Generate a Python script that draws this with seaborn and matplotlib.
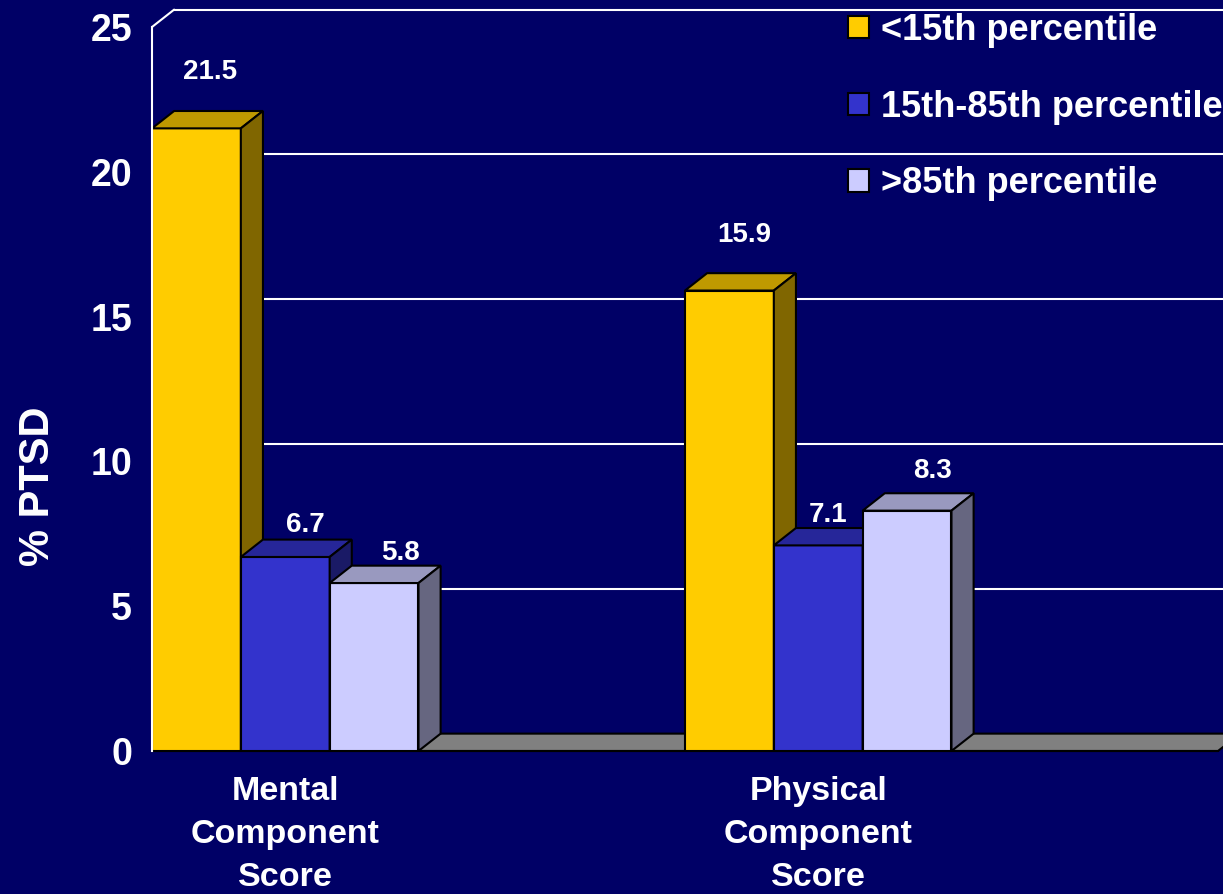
import numpy as np
import pandas as pd
import matplotlib
matplotlib.use("Agg")
import matplotlib.pyplot as plt
import seaborn as sns
from matplotlib.patches import Polygon, Patch
from matplotlib.colors import to_rgb

# ---------------- data ----------------
categories = ["Mental\nComponent\nScore", "Physical\nComponent\nScore"]
groups = ["<15th percentile", "15th-85th percentile", ">85th percentile"]
mental = [21.5, 6.7, 5.8]
physical = [15.9, 7.1, 8.3]
yticks = [0, 5, 10, 15, 20, 25]

# ---------------- style ----------------
BG = "#000066"
colors = ["#FFCC00", "#3333CC", "#CCCCFF"]
DEPTH_X = 0.083   # depth of the 3D effect in category units
DEPTH_Y = 0.60    # depth of the 3D effect in value units
# label nudges (pixels) so labels sit like the original
label_dx_px = [2.5, 9, 15, 3.5, -1, 14.5]
label_dy_px = [32, 8, 6, 31, 6, 15]

sns.set_style("white")
plt.rcParams["font.family"] = ["Liberation Sans", "DejaVu Sans"]
plt.rcParams["font.weight"] = "bold"

W, H = 1223, 894
fig = plt.figure(figsize=(W / 100, H / 100), dpi=100, facecolor=BG)
ax = fig.add_axes([152 / W, (H - 751) / H, 1066 / W, 724 / H])
ax.set_facecolor("none")

rows = []
for cat, vals in zip(categories, [mental, physical]):
    for g, v in zip(groups, vals):
        rows.append({"cat": cat, "group": g, "value": v})
df = pd.DataFrame(rows)
order = [categories[0], "gap1", categories[1], "gap2"]

sns.barplot(data=df, x="cat", y="value", hue="group", order=order,
            hue_order=groups, palette=colors, width=1.0, dodge=True,
            saturation=1, edgecolor="black", linewidth=1.5,
            errorbar=None, legend=False, ax=ax)

ax.set_xlim(-0.5, 3.5)
ax.set_ylim(0, 25)

# floor
floor = Polygon([(-0.5, 0), (3.5, 0), (3.5 + DEPTH_X, DEPTH_Y), (-0.5 + DEPTH_X, DEPTH_Y)],
                closed=True, facecolor="#808080", edgecolor="black", lw=1.5,
                clip_on=False, zorder=1.5)
ax.add_patch(floor)

# back-wall gridlines
for y in yticks[1:]:
    ax.plot([-0.5 + DEPTH_X, 3.5 + DEPTH_X], [y + DEPTH_Y, y + DEPTH_Y],
            color="white", lw=1.5, clip_on=False, zorder=1)
ax.plot([-0.5, -0.5 + DEPTH_X], [yticks[-1], yticks[-1] + DEPTH_Y],
        color="white", lw=1.5, clip_on=False, zorder=1)

# 3D bar faces
bars = sorted([p for p in ax.patches if p is not floor and p.get_height() > 0],
              key=lambda p: p.get_x())
values = mental + physical
px_to_pt = 72 / 100
for i, (b, val) in enumerate(zip(bars, values)):
    z = 3 + i * 0.1
    x0, w, h = b.get_x(), b.get_width(), b.get_height()
    fc = np.array(to_rgb(b.get_facecolor()))
    b.set_zorder(z)
    top = Polygon([(x0, h), (x0 + w, h), (x0 + w + DEPTH_X, h + DEPTH_Y), (x0 + DEPTH_X, h + DEPTH_Y)],
                  closed=True, facecolor=fc * 0.75, edgecolor="black", lw=1.5,
                  clip_on=False, zorder=z)
    side = Polygon([(x0 + w, 0), (x0 + w + DEPTH_X, DEPTH_Y), (x0 + w + DEPTH_X, h + DEPTH_Y), (x0 + w, h)],
                   closed=True, facecolor=fc * 0.5, edgecolor="black", lw=1.5,
                   clip_on=False, zorder=z)
    ax.add_patch(top)
    ax.add_patch(side)
    ax.annotate(f"{val}", xy=(x0 + w / 2 + DEPTH_X / 2, h + DEPTH_Y),
                xytext=(label_dx_px[i] * px_to_pt, label_dy_px[i] * px_to_pt),
                textcoords="offset points", ha="center", va="baseline",
                color="white", fontsize=20, fontweight="bold", zorder=10,
                annotation_clip=False)

# axes styling
for s in ["top", "right"]:
    ax.spines[s].set_visible(False)
ax.spines["left"].set_color("white")
ax.spines["left"].set_linewidth(1.5)
ax.spines["left"].set_zorder(5)
ax.spines["bottom"].set_color("black")
ax.spines["bottom"].set_linewidth(1.5)

ax.set_yticks(yticks)
ax.set_yticklabels([str(t) for t in yticks])
ax.tick_params(axis="y", colors="white", length=7.2, width=1.5, pad=7.2,
               labelsize=27, labelcolor="white")

ax.set_xticks([0, 2])
ax.set_xticklabels(categories)
ax.set_xticks([-0.5, 0.5, 1.5, 2.5, 3.5], minor=True)
ax.tick_params(axis="x", which="major", length=0, pad=18, labelsize=24.5,
               labelcolor="white")
ax.tick_params(axis="x", which="minor", length=7.2, width=1.5, color="black",
               direction="out")
for lab in ax.get_xticklabels():
    lab.set_linespacing(1.5)
    lab.set_fontweight("bold")
for lab in ax.get_yticklabels():
    lab.set_fontweight("bold")
ax.set_xlabel("")

ax.set_ylabel("% PTSD", fontsize=30, color="white", fontweight="bold")
ax.yaxis.set_label_coords(-0.088, 0.366)

handles = [Patch(facecolor=c, edgecolor="black", lw=1.5) for c in colors]
leg = ax.legend(handles, groups, loc="upper left",
                bbox_to_anchor=(848 / W, 1 - 13 / H), bbox_transform=fig.transFigure,
                frameon=False, labelcolor="white",
                prop={"weight": "bold", "size": 26},
                handlelength=0.58, handleheight=0.58, handletextpad=0.33,
                labelspacing=1.15, borderpad=0, borderaxespad=0)

fig.savefig("out.png", dpi=100, facecolor=BG)
